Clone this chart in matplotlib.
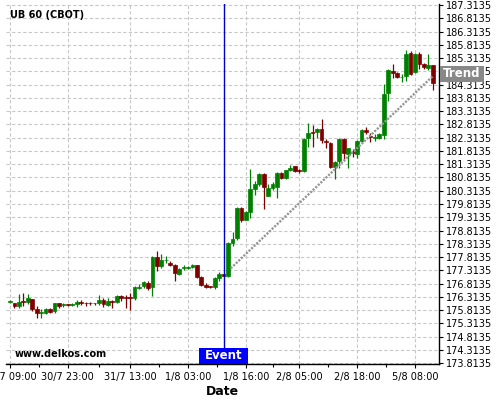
# UB 60 (CBOT) hourly candles around the event, with trend line
import numpy as np
import matplotlib.pyplot as plt
import matplotlib.transforms as mtransforms
from matplotlib.patches import Rectangle

opens = [176.12, 176.07, 175.99, 176.15, 176.12, 176.22, 175.85, 175.72, 175.72, 175.87,
         175.78, 176.07, 176.00, 176.03, 176.02, 176.03, 176.10, 176.09, 176.09, 176.09,
         176.08, 176.20, 176.02, 176.17, 176.12, 176.36, 176.30, 176.31, 176.27, 176.67,
         176.71, 176.84, 176.67, 177.81, 177.47, 177.70, 177.59, 177.53, 177.19, 177.42,
         177.43, 177.44, 177.50, 177.06, 176.75, 176.70, 176.69, 177.01, 177.18, 177.09,
         178.35, 178.53, 179.67, 179.23, 179.50, 180.38, 180.58, 180.96, 180.13, 180.42,
         180.46, 180.98, 180.80, 181.09, 181.23, 181.07, 181.06, 182.31, 182.52, 182.52,
         182.64, 182.17, 182.10, 181.22, 181.45, 182.27, 181.71, 181.77, 181.71, 182.19,
         182.61, 182.37, 182.33, 182.29, 182.40, 183.99, 184.81, 184.75, 184.59, 184.64,
         185.52, 184.79, 185.48, 185.08, 184.95, 185.04]
closes = [176.14, 175.99, 176.13, 176.12, 176.26, 175.85, 175.70, 175.74, 175.85, 175.76,
          176.07, 175.97, 176.05, 176.00, 176.05, 176.12, 176.08, 176.08, 176.08, 176.08,
          176.20, 176.03, 176.17, 176.11, 176.36, 176.27, 176.29, 176.29, 176.67, 176.69,
          176.86, 176.65, 177.81, 177.47, 177.72, 177.71, 177.50, 177.22, 177.38, 177.44,
          177.44, 177.53, 177.06, 176.75, 176.69, 176.69, 177.03, 177.19, 177.09, 178.35,
          178.51, 179.67, 179.23, 179.50, 180.38, 180.58, 180.96, 180.46, 180.42, 180.58,
          180.98, 180.80, 181.09, 181.18, 181.05, 181.06, 182.27, 182.50, 182.51, 182.63,
          182.21, 182.15, 181.22, 181.41, 182.26, 181.75, 181.92, 181.75, 182.19, 182.61,
          182.51, 182.35, 182.33, 182.44, 183.95, 184.88, 184.75, 184.60, 184.61, 185.48,
          184.73, 185.48, 185.10, 184.98, 185.04, 184.37]
highs = [176.19, 176.08, 176.44, 176.47, 176.44, 176.25, 175.97, 175.85, 175.89, 175.91,
         176.10, 176.10, 176.10, 176.05, 176.10, 176.19, 176.20, 176.11, 176.11, 176.10,
         176.38, 176.29, 176.27, 176.21, 176.40, 176.40, 176.40, 176.46, 176.71, 176.80,
         176.93, 176.90, 177.84, 178.06, 177.93, 177.85, 177.66, 177.55, 177.41, 177.50,
         177.48, 177.56, 177.53, 177.09, 176.84, 176.73, 177.07, 177.24, 177.20, 178.37,
         178.75, 179.70, 179.70, 179.54, 181.14, 180.69, 180.99, 180.99, 180.58, 180.63,
         181.01, 181.01, 181.11, 181.30, 181.26, 181.14, 182.29, 182.86, 182.79, 182.67,
         183.02, 182.27, 182.14, 181.44, 182.29, 182.29, 181.94, 181.89, 182.23, 182.63,
         182.73, 182.48, 182.44, 182.48, 184.35, 184.91, 185.10, 184.79, 184.73, 185.61,
         185.57, 185.51, 185.54, 185.11, 185.48, 185.06]
lows = [176.07, 175.91, 175.91, 175.97, 176.03, 175.78, 175.53, 175.53, 175.66, 175.72,
        175.72, 175.91, 175.95, 175.98, 175.97, 175.95, 176.00, 175.99, 176.00, 176.02,
        176.00, 175.95, 175.96, 175.90, 176.08, 176.15, 175.90, 175.83, 176.21, 176.61,
        176.65, 176.59, 176.34, 177.28, 177.40, 177.59, 177.47, 176.90, 177.15, 177.34,
        177.38, 177.40, 177.02, 176.71, 176.65, 176.66, 176.61, 176.90, 177.05, 177.06,
        178.22, 178.45, 179.13, 179.20, 179.29, 180.17, 180.51, 179.63, 180.10, 180.35,
        180.04, 180.76, 180.74, 181.05, 181.01, 180.97, 181.01, 181.98, 181.98, 182.30,
        182.10, 181.94, 181.19, 180.76, 181.19, 181.44, 181.16, 181.60, 181.56, 182.16,
        182.44, 182.16, 182.19, 182.26, 182.28, 183.70, 184.57, 184.56, 184.41, 184.45,
        184.69, 184.76, 184.91, 184.91, 184.85, 184.12]

tick_pos = [0, 13, 27, 40, 53, 65, 78, 91]
tick_labels = ['30/7 09:00', '30/7 23:00', '31/7 13:00', '1/8 03:00',
               '1/8 16:00', '2/8 05:00', '2/8 18:00', '5/8 08:00']
event_idx = 48
trend_x = [49.6, 95]
trend_y = [177.39, 184.63]
trend_label_y = 184.72

o = np.array(opens)
c = np.array(closes)
h = np.array(highs)
l = np.array(lows)
x = np.arange(len(o))

up_col = '#008000'
dn_col = '#800000'
cols = [up_col if cc >= oo else dn_col for oo, cc in zip(o, c)]

fig = plt.figure(figsize=(5, 4), dpi=100)
ax = fig.add_axes([0.012, 0.09125, 0.8666, 0.89875])

# wicks + bodies
ax.vlines(x, l, h, colors=cols, linewidth=0.9, zorder=3)
body_h = np.maximum(np.abs(c - o), 0.035)
body_b = np.minimum(o, c) - (body_h - np.abs(c - o)) / 2
ax.bar(x, body_h, bottom=body_b, width=0.85, color=cols, edgecolor=cols,
       linewidth=0.5, zorder=3)

# trend line
ax.plot(trend_x, trend_y, color='#959595', lw=1.7, linestyle=(0, (0.9, 0.6)), zorder=4)

# event line
ax.axvline(event_idx, color='#0000c8', lw=1, zorder=4)

ax.set_xlim(-0.9, 96.47)
ax.set_ylim(173.806, 187.35)

ax.set_xticks(tick_pos)
ax.set_xticklabels(tick_labels)
mids = [(a + b) / 2 for a, b in zip(tick_pos[:-1], tick_pos[1:])]
ax.set_xticks(mids, minor=True)
ax.set_yticks(np.arange(173.8135, 187.32, 0.5))
ax.yaxis.set_major_formatter(plt.FormatStrFormatter('%.4f'))
ax.yaxis.tick_right()

ax.tick_params(axis='both', which='major', length=3, width=0.8, labelsize=7)
ax.tick_params(axis='x', which='minor', length=2, width=0.8)
ax.tick_params(axis='y', pad=1.5)
ax.tick_params(axis='x', pad=3)

for s in ['left', 'top']:
    ax.spines[s].set_visible(False)
ax.spines['right'].set_linewidth(1)
ax.spines['bottom'].set_linewidth(1)

ax.grid(True, which='major', color='#c8c8c8', linestyle=(0, (3, 2)), linewidth=0.8)

ax.set_xlabel('Date', fontweight='bold', fontsize=9, labelpad=2)

# event box at the bottom
tr_ev = mtransforms.blended_transform_factory(ax.transData, ax.transAxes)
ax.add_patch(Rectangle((event_idx - 5.55, 0), 11.1, 0.043, transform=tr_ev,
                       facecolor='#0000ff', edgecolor='none', zorder=5, clip_on=False))
ax.text(event_idx, 0.0215, 'Event', transform=tr_ev, color='white', fontweight='bold',
        fontsize=8.5, ha='center', va='center', zorder=6)

# trend box on the right
tr_tr = mtransforms.blended_transform_factory(ax.transAxes, ax.transData)
ax.add_patch(Rectangle((1.0016, trend_label_y - 0.30), 0.1016, 0.60, transform=tr_tr,
                       facecolor='#888888', edgecolor='none', zorder=5, clip_on=False))
ax.text(1.0524, trend_label_y, 'Trend', transform=tr_tr, color='white', fontweight='bold',
        fontsize=8.5, ha='center', va='center', zorder=6, clip_on=False)

fig.text(0.021, 1 - 15.5 / 400, 'UB 60 (CBOT)', fontweight='bold', fontsize=7, va='center')
fig.text(0.03, 1 - 354 / 400, 'www.delkos.com', fontweight='bold', fontsize=7, va='center')

fig.savefig('out.png', dpi=100)
